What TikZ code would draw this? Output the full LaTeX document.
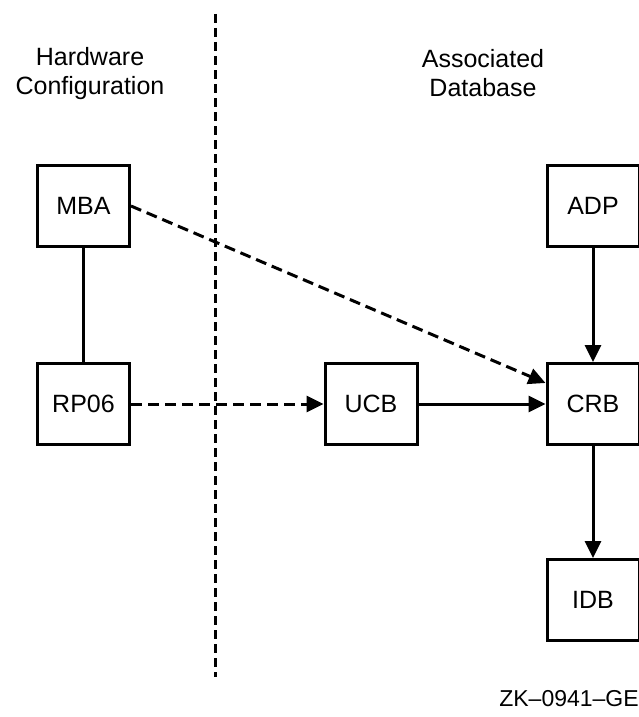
\documentclass[tikz,border=0pt]{standalone}
\usepackage{fontspec}
\setmainfont{Liberation Sans}
\usetikzlibrary{arrows.meta}
\tikzstyle{block} = [draw,line width=3pt,minimum width=92pt,minimum height=81pt,inner sep=0pt,font=\fontsize{25}{29}\selectfont]
\tikzstyle{heading} = [align=center,font=\fontsize{25}{29}\selectfont]
\tikzstyle{link} = [line width=3pt,-{Triangle[length=17pt,width=16pt]}]
\tikzstyle{dashed link} = [link,dash pattern=on 11pt off 6pt]
\tikzstyle{divider} = [line width=3pt,dash pattern=on 9pt off 5pt]

\begin{document}
\begin{tikzpicture}[x=1pt,y=-1pt]
        \useasboundingbox (0,0) rectangle (639,717);

        \node[heading] (hw) at (90,74) {Hardware\\Configuration};
        \node[heading] (db) at (483,73) {Associated\\Database};

        \coordinate (top) at (215,14);
        \coordinate (bottom) at (215,677);
        \draw[divider] (top) to (bottom);

        \node[block] (mba) at (83.5,206) {MBA};
        \node[block] (rp06) at (83.5,404) {RP06};
        \node[block] (ucb) at (371,404) {UCB};
        \node[block] (adp) at (593,206) {ADP};
        \node[block] (crb) at (593,404) {CRB};
        \node[block] (idb) at (593,600) {IDB};

        \draw[line width=3pt] (mba) to (rp06);
        \draw[dashed link] (mba.east) to ([yshift=21pt]crb.west);
        \draw[dashed link] (rp06) to (ucb);
        \draw[link] (ucb) to (crb);
        \draw[link] (adp) to (crb);
        \draw[link] (crb) to (idb);

        \node[font=\fontsize{23}{27}\selectfont] (code) at (569,699) {ZK--0941--GE};
    \end{tikzpicture}
\end{document}
